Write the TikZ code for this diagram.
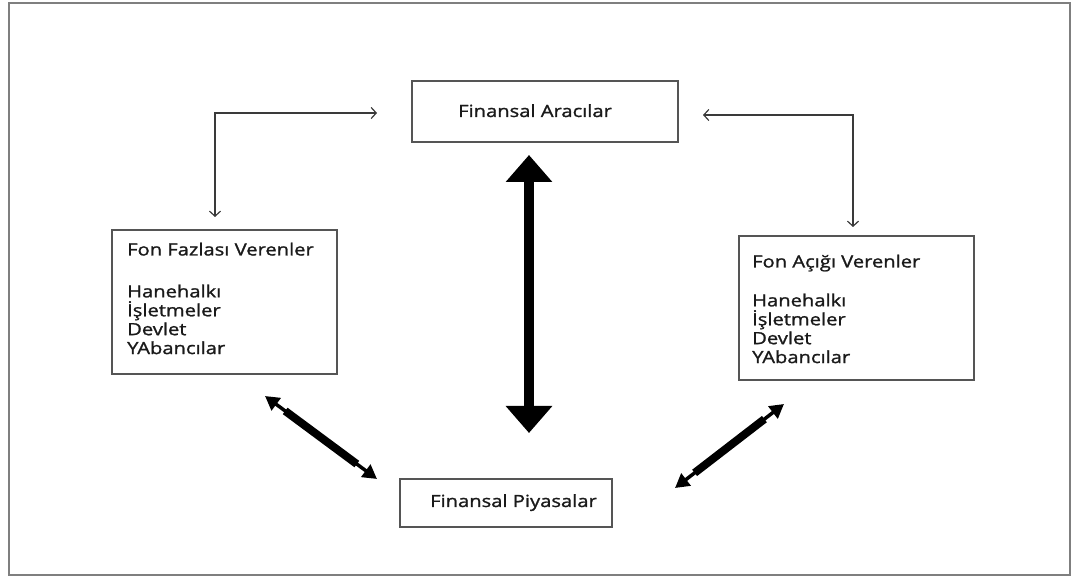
\documentclass[tikz,border=0pt]{standalone}
\usepackage{fontspec}
\setmainfont{Open Sans}[FakeBold=1.3, FakeStretch=1.2]
\usetikzlibrary{arrows.meta,calc}
\definecolor{framegray}{HTML}{7F7F7F}
\definecolor{boxgray}{HTML}{555555}
\definecolor{linegray}{HTML}{3A3A3A}
\definecolor{textcol}{HTML}{1A1A1A}
\begin{document}
\begin{tikzpicture}[x=1pt,y=-1pt,
  box/.style={draw=boxgray, line width=1.5pt, inner sep=0pt},
  lbl/.style={inner sep=0pt, align=left, text=textcol,
    font=\fontsize{16.8}{18.9}\selectfont},
  thinarrow/.style={draw=linegray, line width=1.2pt, line join=miter,
    arrows={Straight Barb[length=5pt,width=11pt,line width=1.2pt]-Straight Barb[length=5pt,width=11pt,line width=1.2pt]}},
  bigarrow/.style={draw=black, line width=10pt,
    arrows={Triangle[length=27pt,width=45pt]-Triangle[length=27pt,width=45pt]}},
  diagthin/.style={draw=black, line width=3.5pt,
    arrows={Triangle[length=14pt,width=15pt]-Triangle[length=14pt,width=15pt]}},
  diagthick/.style={draw=black, line width=8pt},
]
\useasboundingbox (0,0) rectangle (1072,577);

% outer frame
\draw[framegray, line width=2pt] (9,3) rectangle (1070,575);

% boxes
\node[box, minimum width=266pt, minimum height=61pt] (arac) at (545,111.5) {};
\node[box, minimum width=225pt, minimum height=144pt] (fazla) at (224.5,302) {};
\node[box, minimum width=235pt, minimum height=144pt] (acik) at (856.5,308) {};
\node[box, minimum width=212pt, minimum height=48pt] (piyasa) at (506,503) {};

% box texts
\node[lbl, anchor=base west] (aracT) at (458,117) {Finansal Aracılar};
\node[lbl, anchor=base west] (piyasaT) at (430,507) {Finansal Piyasalar};
\node[lbl, anchor=north west] (fazlaT) at (127,242.5)
  {Fon Fazlası Verenler\\[23pt]Hanehalkı\\İşletmeler\\Devlet\\YAbancılar};
\node[lbl, anchor=north west] (acikT) at (752,254.5)
  {Fon Açığı Verenler\\[20pt]Hanehalkı\\İşletmeler\\Devlet\\YAbancılar};

% elbow connectors to the intermediaries
\coordinate (L1) at (215,217);
\coordinate (L2) at (215,113);
\coordinate (L3) at (377,113);
\draw[thinarrow] (L1) -- (L2) -- (L3);

\coordinate (R1) at (703,115);
\coordinate (R2) at (853,115);
\coordinate (R3) at (853,227);
\draw[thinarrow] (R1) -- (R2) -- (R3);

% central two-way arrow
\coordinate (V1) at (529,155);
\coordinate (V2) at (529,433);
\draw[bigarrow] (V1) -- (V2);

% diagonal two-way arrows to the markets
\coordinate (D1) at (265,396);
\coordinate (D2) at (377,479);
\draw[diagthin] (D1) -- (D2);
\draw[diagthick] ($(D1)!0.18!(D2)$) -- ($(D1)!0.82!(D2)$);

\coordinate (E1) at (675,488);
\coordinate (E2) at (784,404);
\draw[diagthin] (E1) -- (E2);
\draw[diagthick] ($(E1)!0.18!(E2)$) -- ($(E1)!0.82!(E2)$);
\end{tikzpicture}
\end{document}
